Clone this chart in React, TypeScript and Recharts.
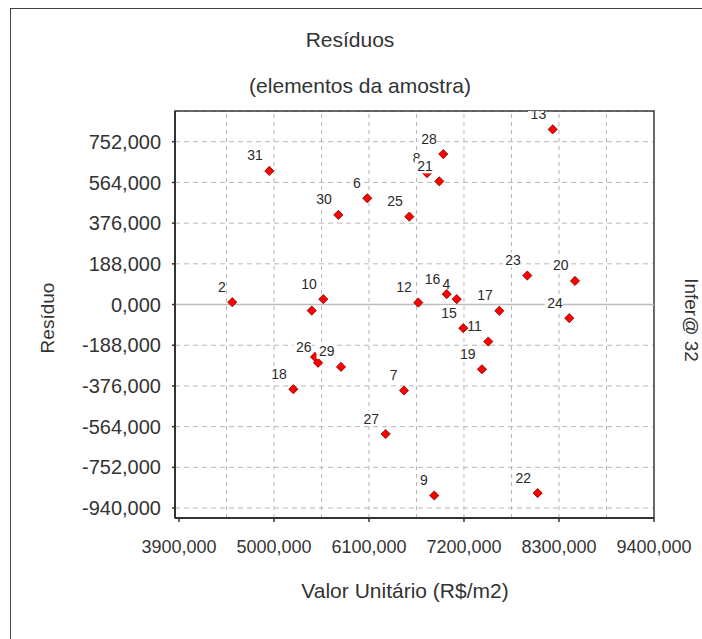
import * as React from 'react';
import {
  CartesianGrid,
  ReferenceArea,
  ReferenceLine,
  Scatter,
  ScatterChart,
  XAxis,
  YAxis,
} from 'recharts';

// sample elements, in drawing order ('' = label hidden under others)
const elementLabels = ['', '2', '', '4', '6', '7', '8', '9', '10', '11', '12', '13', '15', '16', '17', '18', '19', '20', '21', '22', '23', '24', '25', '26', '27', '28', '29', '30', '31'];
const valorUnitario = [5437, 4517, 5475, 7116, 6080, 6505, 6772, 6856, 5571, 7481, 6671, 8227, 7192, 7000, 7609, 5224, 7408, 8485, 6914, 8053, 7933, 8419, 6567, 5510, 6293, 6960, 5776, 5745, 4946];
const residuo = [-28, 11, -242, 25, 491, -397, 607, -882, 25, -171, 9, 809, -109, 48, -29, -391, -299, 109, 569, -871, 134, -63, 406, -269, -598, 695, -288, 414, 617];

const xTicks = [3900, 5000, 6100, 7200, 8300, 9400];
const xGrid = [4450, 5000, 5550, 6100, 6650, 7200, 7750, 8300, 8850];
const yTicks = [-940, -752, -564, -376, -188, 0, 188, 376, 564, 752];
const xDomain: [number, number] = [3854, 9400];
const yDomain: [number, number] = [-986, 894];

const W = 702;
const H = 639;
const MARGIN = { top: 111, right: 48, bottom: 0, left: 0 };
const Y_AXIS_W = 175;
const X_AXIS_H = 121;

const FONT = '"Liberation Sans", Arial, sans-serif';
const fmt = (v: number) => Number(v).toFixed(3).replace('.', ',');

const points = elementLabels.map((id, i) => ({ id, x: valorUnitario[i], y: residuo[i] }));

function PointMark(props: any) {
  const { cx, cy, payload } = props;
  if (cx == null || cy == null) return null;
  const id: string = payload?.id ?? '';
  const w = id.length * 8 + 2;
  const r = 4.6;
  return (
    <g clipPath="url(#plot-clip)">
      <polygon
        points={`${cx},${cy - r} ${cx + r},${cy} ${cx},${cy + r} ${cx - r},${cy}`}
        fill="#ff0000"
        stroke="#7a0000"
        strokeWidth={0.8}
      />
      {id && (
        <>
          <rect x={cx - 6.5 - w} y={cy - 23} width={w} height={15} fill="#fff" />
          <text
            x={cx - 6.5}
            y={cy - 10.5}
            textAnchor="end"
            fontSize={14}
            fontFamily={FONT}
            fill="#2a2a2a"
          >
            {id}
          </text>
        </>
      )}
    </g>
  );
}

export default function App() {
  const yTickStyle = { fill: '#333', fontSize: 20, fontFamily: FONT };
  const xTickStyle = { fill: '#333', fontSize: 18, fontFamily: FONT };
  const plot = {
    x: MARGIN.left + Y_AXIS_W,
    y: MARGIN.top,
    width: W - MARGIN.left - MARGIN.right - Y_AXIS_W,
    height: H - MARGIN.top - MARGIN.bottom - X_AXIS_H,
  };
  return (
    <div
      style={{
        position: 'absolute',
        left: 0,
        top: 0,
        width: W,
        height: H,
        background: '#fff',
        overflow: 'hidden',
      }}
    >
      <div
        style={{
          position: 'absolute',
          left: 10,
          top: 8,
          width: 900,
          height: 900,
          border: '1.5px solid #444',
        }}
      />
      <svg width={0} height={0} style={{ position: 'absolute' }}>
        <defs>
          <clipPath id="plot-clip">
            <rect x={plot.x} y={plot.y} width={plot.width} height={plot.height} />
          </clipPath>
        </defs>
      </svg>
      <div style={{ position: 'absolute', left: 0, top: 0 }}>
        <ScatterChart width={W} height={H} margin={MARGIN}>
          <CartesianGrid vertical={false} stroke="#b8b8b8" strokeDasharray="5 4" />
          {xGrid.map((v) => (
            <ReferenceLine key={v} x={v} stroke="#b8b8b8" strokeDasharray="4 4" />
          ))}
          <ReferenceLine y={0} stroke="#bcbcbc" strokeWidth={1.5} />
          <XAxis
            dataKey="x"
            type="number"
            domain={xDomain}
            ticks={xTicks}
            allowDataOverflow
            height={X_AXIS_H}
            tickFormatter={fmt}
            tick={xTickStyle}
            tickSize={4}
            tickMargin={18}
            axisLine={{ stroke: '#333', strokeWidth: 2 }}
            tickLine={{ stroke: '#333', strokeWidth: 1.5 }}
          />
          <YAxis
            dataKey="y"
            type="number"
            domain={yDomain}
            ticks={yTicks}
            allowDataOverflow
            width={Y_AXIS_W}
            tickFormatter={fmt}
            tick={yTickStyle}
            tickSize={3}
            tickMargin={11}
            axisLine={{ stroke: '#333', strokeWidth: 2 }}
            tickLine={{ stroke: '#333', strokeWidth: 1.5 }}
          />
          <ReferenceArea
            x1={xDomain[0]}
            x2={xDomain[1]}
            y1={yDomain[0]}
            y2={yDomain[1]}
            fill="none"
            fillOpacity={0}
            stroke="#3a3a3a"
            strokeWidth={1.5}
          />
          <Scatter data={points} shape={PointMark} isAnimationActive={false} />
        </ScatterChart>
      </div>
      <svg
        width={W}
        height={H}
        style={{ position: 'absolute', left: 0, top: 0, pointerEvents: 'none' }}
      >
        <g fontFamily={FONT} fill="#333" fontSize={21}>
          <text x={350} y={47} textAnchor="middle">Resíduos</text>
          <text x={360} y={93} textAnchor="middle">(elementos da amostra)</text>
          <text x={405} y={598} textAnchor="middle">Valor Unitário (R$/m2)</text>
          <text x={0} y={0} textAnchor="middle" fontSize={19} transform="translate(54,318) rotate(-90)">
            Resíduo
          </text>
          <text x={0} y={0} textAnchor="middle" fontSize={19} transform="translate(685,320) rotate(90)">
            Infer@ 32
          </text>
        </g>
      </svg>
    </div>
  );
}
